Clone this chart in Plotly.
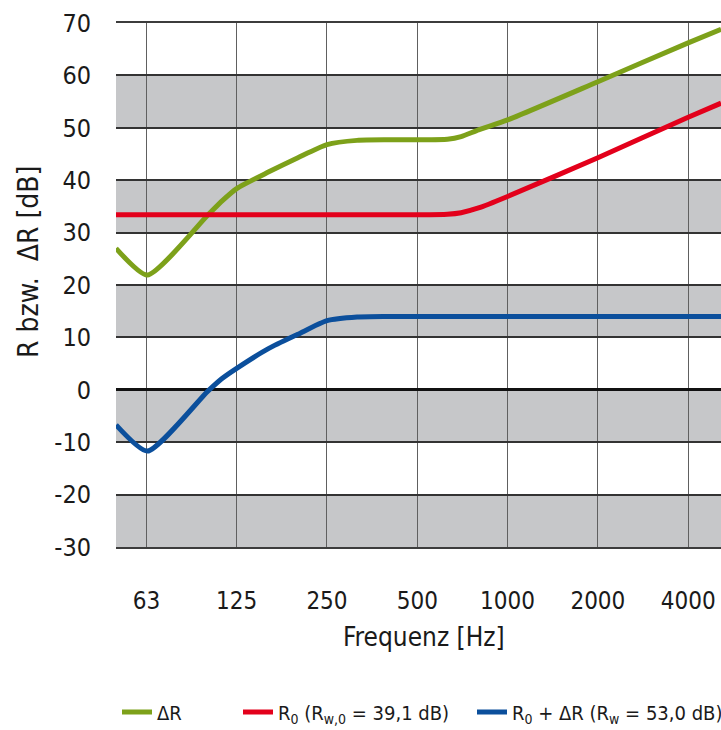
import plotly.graph_objects as go

# Frequency response data (third-octave readings, Hz / dB)
freq_dR = [49.5, 63, 100, 112, 125, 160, 200, 250, 315, 400, 500, 630, 700, 800, 1000, 2000, 4000, 5150]
delta_R = [27.0, 21.9, 33.3, 36.1, 38.4, 41.6, 44.3, 46.8, 47.6, 47.7, 47.7, 47.8, 48.3, 49.6, 51.5, 58.8, 66.2, 68.8]

freq_R0 = [49.5, 500, 630, 700, 800, 1000, 2000, 4000, 5150]
R0 = [33.4, 33.4, 33.5, 33.8, 34.7, 36.9, 44.3, 52.0, 54.7]

freq_sum = [49.5, 63, 100, 112, 125, 160, 200, 250, 315, 400, 1000, 5150]
R0_plus_dR = [-6.7, -11.7, -0.3, 2.2, 4.1, 7.9, 10.6, 13.2, 13.9, 14.0, 14.0, 14.0]

tick_freqs = [62.5, 125, 250, 500, 1000, 2000, 4000]
tick_labels = ["63", "125", "250", "500", "1000", "2000", "4000"]

level_ticks = [-30, -20, -10, 0, 10, 20, 30, 40, 50, 60, 70]
level_labels = ["-30", "-20", "-10", "0", "10", "20", "30", "40", "50", "60", "70"]

band_ranges = [(50, 60), (30, 40), (10, 20), (-10, 0), (-30, -20)]

GREEN = "#7da11a"
RED = "#e3001b"
BLUE = "#0b4f9c"
BAND = "#c6c7c9"
TEXT = "#1a1a1a"
FONT = "DejaVu Sans Condensed, Liberation Sans Narrow, sans-serif"

W, H = 721, 730

fig = go.Figure()

fig.add_trace(go.Scatter(
    x=freq_dR, y=delta_R, mode="lines", name="ΔR",
    line=dict(color=GREEN, width=5, shape="spline", smoothing=0.6),
    legend="legend",
))
fig.add_trace(go.Scatter(
    x=freq_R0, y=R0, mode="lines",
    name="R<sub>0</sub> (R<sub>w,0</sub> = 39,1 dB)",
    line=dict(color=RED, width=5, shape="spline", smoothing=0.6),
    legend="legend2",
))
fig.add_trace(go.Scatter(
    x=freq_sum, y=R0_plus_dR, mode="lines",
    name="R<sub>0</sub> + ΔR (R<sub>w</sub> = 53,0 dB)",
    line=dict(color=BLUE, width=5, shape="spline", smoothing=0.6),
    legend="legend3",
))

shapes = []
for lo, hi in band_ranges:
    shapes.append(dict(
        type="rect", xref="paper", yref="y", x0=0, x1=1, y0=lo, y1=hi,
        fillcolor=BAND, line=dict(width=0), layer="below",
    ))

legend_common = dict(
    orientation="h", xref="container", yref="container",
    yanchor="middle", y=1 - 712 / H, xanchor="left",
    font=dict(family=FONT, size=20, color=TEXT),
    bgcolor="rgba(0,0,0,0)", itemwidth=30, tracegroupgap=0,
)

fig.update_layout(
    width=W, height=H,
    margin=dict(l=116, r=0, t=23, b=183, autoexpand=False),
    plot_bgcolor="white", paper_bgcolor="white",
    font=dict(family=FONT, color=TEXT),
    shapes=shapes,
    showlegend=True,
    legend=dict(x=117 / W, **legend_common),
    legend2=dict(x=238 / W, **legend_common),
    legend3=dict(x=472 / W, **legend_common),
    annotations=[
        dict(text="R bzw.  ΔR [dB]", xref="paper", yref="paper",
             x=(28 - 116) / 605, y=(547 - 262) / 524, textangle=-90,
             showarrow=False, font=dict(family=FONT, size=28, color=TEXT),
             xanchor="center", yanchor="middle"),
        dict(text="Frequenz [Hz]", xref="paper", yref="paper",
             x=(424 - 116) / 605, y=(547 - 637) / 524,
             showarrow=False, font=dict(family=FONT, size=26, color=TEXT),
             xanchor="center", yanchor="middle"),
    ],
)

fig.update_xaxes(
    type="log", range=[1.6946, 3.7115],
    tickvals=tick_freqs, ticktext=tick_labels,
    showgrid=True, gridcolor="#606060", gridwidth=1.3,
    showline=True, mirror=True, linecolor="#3c3c3c", linewidth=2,
    ticks="outside", ticklen=31, tickcolor="rgba(0,0,0,0)",
    tickfont=dict(family=FONT, size=24, color=TEXT),
    zeroline=False,
)
fig.update_yaxes(
    range=[-30, 70], tickvals=level_ticks, ticktext=level_labels,
    showgrid=True, gridcolor="#333333", gridwidth=1.5,
    zeroline=True, zerolinecolor="#111111", zerolinewidth=2.5,
    showline=False,
    ticks="outside", ticklen=19, tickcolor="rgba(0,0,0,0)",
    tickfont=dict(family=FONT, size=25, color=TEXT),
)

fig.write_html("out.html")
